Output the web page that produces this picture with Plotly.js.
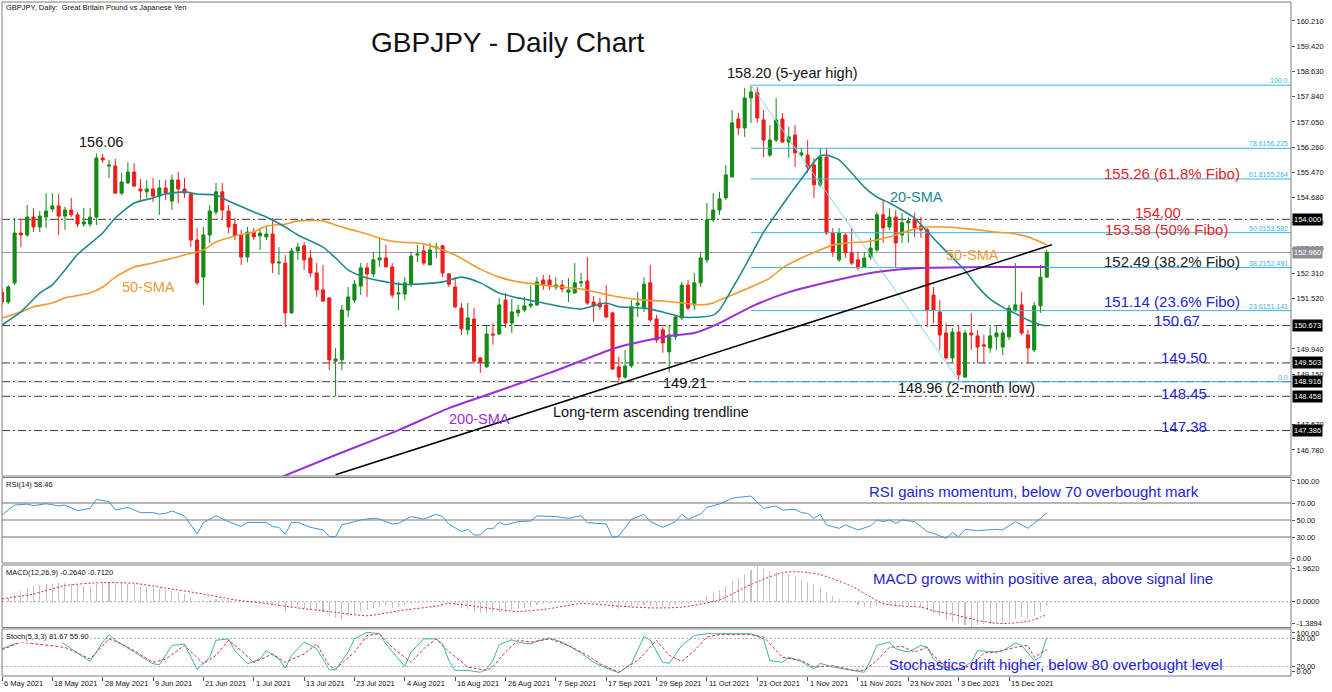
<!DOCTYPE html>
<html><head><meta charset="utf-8">
<script src="https://cdn.plot.ly/plotly-3.0.1.min.js"></script>
<style>html,body{margin:0;padding:0;background:#fff;}#chart{width:1332px;height:692px;}</style>
</head><body><div id="chart"></div>
<script>
// ---------------- DATA ----------------
const dateLabels = ['6 May 2021','18 May 2021','28 May 2021','9 Jun 2021','21 Jun 2021','1 Jul 2021','13 Jul 2021','23 Jul 2021','4 Aug 2021','16 Aug 2021','26 Aug 2021','7 Sep 2021','17 Sep 2021','29 Sep 2021','11 Oct 2021','21 Oct 2021','1 Nov 2021','11 Nov 2021','23 Nov 2021','3 Dec 2021','15 Dec 2021'];

const open = [
151.72,151.41,152.01,153.57,153.51,154.07,153.76,154.07,154.32,154.42,
154.10,154.29,154.14,153.85,153.85,154.07,155.92,155.67,155.67,154.82,
155.14,155.48,154.95,154.86,154.95,154.73,154.98,154.57,155.23,154.95,
154.79,153.35,152.19,153.51,154.23,154.86,154.26,153.85,153.51,152.82,
153.60,153.48,153.45,153.54,152.63,152.63,151.07,153.01,153.17,152.79,
152.32,151.79,151.54,149.56,149.60,151.16,151.47,151.91,152.48,152.29,
152.73,152.79,152.51,151.66,151.66,151.97,152.88,153.01,152.57,153.10,
153.17,152.29,151.88,151.22,150.54,150.88,149.66,149.38,150.41,150.41,
151.47,150.75,151.07,151.16,151.29,151.32,152.10,152.10,151.88,151.94,
151.72,151.69,152.01,152.07,151.41,151.38,151.32,151.07,149.38,149.06,
149.41,151.32,151.22,152.01,150.88,150.54,149.85,150.32,150.91,151.94,
151.32,152.01,152.73,153.98,154.29,154.67,155.33,157.14,156.86,157.80,
157.96,157.11,156.01,156.48,157.14,156.42,156.64,156.01,156.01,155.70,
155.08,155.95,153.57,152.73,153.51,152.95,152.73,152.51,152.82,153.04,
154.14,153.76,154.07,153.51,153.89,154.01,153.79,153.67,151.63,151.10,
150.44,149.66,150.47,149.06,150.44,150.35,150.07,149.97,150.32,150.00,
150.32,151.16,151.32,150.38,149.91,151.29,152.19];
const high = [
151.85,151.94,154.04,153.98,154.45,154.35,154.26,154.82,154.82,154.79,
154.39,154.67,154.23,154.35,154.35,156.06,156.05,155.86,155.89,155.45,
155.79,155.76,155.26,155.23,155.29,155.23,155.23,155.39,155.48,155.29,
154.82,153.73,153.76,154.45,155.14,155.14,154.45,154.04,153.67,153.76,
153.73,153.73,153.76,154.04,153.13,152.88,153.10,153.26,153.29,153.04,
152.63,152.57,151.57,149.97,151.32,151.88,152.10,152.63,152.63,152.98,
153.42,153.20,152.63,152.04,152.19,152.98,153.20,153.20,153.26,153.26,
153.20,152.32,152.19,151.38,151.38,151.22,149.69,150.69,150.75,151.54,
151.69,151.51,151.32,151.57,151.94,152.19,152.26,152.26,152.19,152.10,
152.16,152.63,152.32,152.82,151.60,151.54,151.94,151.10,149.69,149.91,
151.47,151.72,152.19,152.57,151.00,150.63,150.69,151.00,152.04,152.10,
152.32,152.98,154.51,154.82,154.86,155.70,157.42,157.33,158.11,158.20,
158.14,157.42,156.95,157.80,157.33,156.89,156.95,156.23,156.48,155.92,
156.23,156.23,153.73,153.73,153.57,153.73,152.98,152.98,153.42,154.23,
154.61,154.35,154.29,154.20,154.07,154.20,154.07,153.73,151.88,151.47,
150.75,150.60,150.69,150.54,151.07,150.54,150.38,150.63,150.69,150.54,
151.32,152.63,151.72,150.54,151.41,152.57,153.04];
const low = [
151.32,151.35,151.94,153.13,153.45,153.60,153.60,153.73,154.23,153.51,
153.67,154.07,153.76,153.76,153.76,153.82,155.76,155.29,154.79,154.76,
155.11,155.01,154.61,154.67,154.54,154.14,154.61,154.29,154.51,154.67,
153.13,151.94,151.32,153.26,154.14,153.98,153.57,153.35,152.57,152.66,
153.35,153.04,153.35,152.32,152.26,150.63,151.04,152.73,152.41,152.19,
151.57,151.41,149.28,148.46,149.28,150.94,151.38,151.63,151.57,152.19,
152.51,152.51,151.54,151.16,151.47,151.88,152.66,152.57,152.57,152.79,
152.19,151.88,151.22,150.38,150.38,149.50,149.19,149.35,150.07,150.38,
150.60,150.44,150.94,151.10,151.22,151.29,151.79,151.79,151.79,151.72,
151.41,151.69,151.88,151.32,150.79,151.16,150.91,149.28,148.88,149.00,
149.35,150.94,151.10,150.79,150.13,149.82,149.21,150.22,150.85,151.16,
151.16,151.88,152.63,153.92,154.14,154.61,155.29,156.64,156.58,157.02,
157.02,155.95,155.95,156.42,156.39,155.92,155.64,155.95,155.45,154.67,
155.01,153.51,152.82,152.66,152.79,152.57,152.41,152.48,152.73,152.98,
153.26,153.67,152.51,153.26,153.26,153.45,153.42,150.63,150.75,149.91,
149.60,149.53,148.96,149.03,149.91,149.50,149.50,149.82,149.91,149.75,
150.22,151.10,150.38,149.50,149.85,151.07,152.16];
const close = [
151.41,151.88,153.57,153.51,154.07,153.76,154.10,154.26,154.42,154.10,
154.29,154.14,153.85,153.92,154.07,155.92,155.86,155.70,154.82,155.17,
155.48,155.04,154.89,154.95,154.73,154.98,154.82,155.23,154.95,154.82,
153.35,152.01,153.51,154.26,154.86,154.29,153.76,153.48,152.82,153.60,
153.45,153.57,153.54,152.63,152.66,151.07,153.01,153.13,152.73,152.32,
151.79,151.44,149.60,149.63,151.16,151.57,151.97,152.48,152.29,152.73,
152.79,152.51,151.63,151.69,152.01,152.85,152.91,152.63,153.04,153.13,
152.32,151.97,151.26,150.57,150.91,149.56,149.50,150.41,150.38,151.32,
150.75,151.10,151.16,151.29,151.35,152.04,151.94,151.91,151.94,151.82,
151.79,152.01,152.04,151.38,151.29,151.26,150.94,149.31,149.06,149.41,
151.26,151.38,151.97,150.85,150.22,150.13,150.38,150.94,151.94,151.22,
152.01,152.79,153.98,154.29,154.64,155.39,157.02,156.86,157.80,157.99,
157.17,156.48,156.48,157.11,156.42,156.58,156.08,156.08,155.64,155.08,
155.95,153.57,152.98,153.57,152.95,152.63,152.48,152.79,153.10,154.14,
153.73,154.07,153.26,153.89,153.95,153.73,153.67,151.16,151.16,150.38,
149.66,150.47,149.13,150.44,150.38,150.00,150.03,150.35,150.44,150.44,
151.22,151.32,150.44,149.97,151.29,152.19,152.96];

const sma20Bar = [0,3,6,8,10,12,16,18,21,24,26,29,31,34,36,40,42,45,47,51,53,55,58,61,63,66,70,73,76,79,82,86,89,92,94,96,98,102,105,108,111,113,114,116,118,119,121,123,125,127,129,130,131,133,135,137,139,141,143,145,147,149,151,153,155,157,159,161,163,165,166];
const sma20Val = [150.69,151.10,151.69,151.95,152.41,152.90,153.57,154.04,154.51,154.67,154.79,154.86,154.79,154.76,154.57,154.23,154.07,153.76,153.51,153.13,152.79,152.41,152.16,152.04,151.97,151.97,152.04,152.19,152.01,151.69,151.54,151.38,151.26,151.19,151.29,151.38,151.26,151.22,151.10,150.94,150.94,151.00,151.16,151.82,152.51,152.88,153.60,154.17,154.73,155.26,155.79,155.98,156.01,155.86,155.45,155.01,154.70,154.51,154.29,154.04,153.62,153.20,152.80,152.40,151.90,151.50,151.25,151.05,150.85,150.70,150.67];

const sma50Bar = [0,3,5,8,10,14,16,18,21,24,26,29,32,34,37,40,42,45,47,51,53,55,58,61,63,67,70,72,74,76,79,82,86,89,92,95,98,102,105,108,111,113,114,116,119,122,124,127,130,132,134,137,139,142,145,147,150,152,155,158,160,163,165,166];
const sma50Val = [150.91,151.10,151.26,151.38,151.54,151.69,151.88,152.19,152.51,152.63,152.73,152.88,153.04,153.29,153.48,153.60,153.79,153.85,153.95,153.95,153.82,153.70,153.54,153.35,153.29,153.23,153.04,152.88,152.66,152.44,152.19,152.04,151.94,151.88,151.82,151.69,151.57,151.47,151.44,151.38,151.32,151.38,151.47,151.63,151.88,152.16,152.48,152.79,153.04,153.20,153.26,153.29,153.35,153.51,153.70,153.76,153.76,153.73,153.67,153.60,153.57,153.45,153.29,153.20];

const sma200Bar = [44,53,63,71,77,87,98,106,110,114,119,125,132,139,147,157,166];
const sma200Val = [145.90,146.62,147.40,148.09,148.50,149.19,150.00,150.35,150.44,150.75,151.26,151.72,152.07,152.35,152.48,152.51,152.51];

const trendBar = [53,166.8];
const trendVal = [146.00,153.20];

const fibStartBar = 119, fibEndBar = 152;
const fibLevels = [158.20,156.225,155.264,153.582,152.491,151.141,148.916];
const fibPct = ['100.0','78.6','61.8','50.0','38.2','23.6','0.0'];
const fibSwing = [158.20,148.96];

const levelLines = [154.00,150.673,149.503,148.916,148.458,147.386];
const lastPrice = 152.96;
const priceTicks = [160.21,159.42,158.63,157.84,157.05,156.26,155.47,154.68,153.89,153.10,152.31,151.52,149.94,149.15,147.57,146.78];

const rsiBar = [0,2,4,5,7,9,10,12,14,15,17,18,20,22,24,25,26,27,29,30,31,32,34,36,38,39,42,43,44,45,46,47,49,51,52,53,54,56,57,59,60,62,63,65,67,69,70,71,73,74,75,76,77,78,79,80,82,84,85,88,90,92,93,96,97,98,100,102,103,105,107,108,109,111,112,114,116,117,119,121,123,124,126,127,128,129,130,131,133,134,136,138,139,140,141,142,143,145,147,148,150,151,152,153,155,158,159,161,163,165,166];
const rsiVal = [55.9,67.6,68.7,66.9,69.1,66.7,67.6,61.0,63.7,74.3,71.6,61.7,64.9,58.7,58.7,56.9,57.8,60.6,54.8,44.2,33.6,46.9,55.1,48.1,42.2,47.2,47.2,42.2,41.4,33.1,47.2,47.2,41.4,38.3,30.4,30.4,44.2,48.1,50.1,52.0,51.1,45.3,46.1,54.0,51.1,56.7,54.0,45.2,36.3,39.0,32.4,32.4,39.8,39.8,47.2,44.2,48.1,48.9,54.8,54.0,52.0,55.1,46.9,45.3,29.6,31.2,50.8,56.7,48.1,41.4,48.1,56.7,50.8,57.0,64.9,68.8,75.5,76.7,78.2,63.7,66.5,61.7,62.6,58.7,57.8,52.0,56.7,44.2,40.2,44.2,38.3,43.0,50.1,48.1,50.1,46.1,50.1,48.1,36.3,34.3,28.4,35.1,30.4,39.0,37.5,39.0,38.3,48.1,40.2,52.0,58.46];

const macdVal = [
0.15,0.20,0.40,0.60,0.75,0.85,0.91,0.95,1.00,1.03,
1.05,0.99,0.92,0.87,0.86,0.95,1.05,1.09,1.05,1.02,
1.00,0.95,0.89,0.82,0.76,0.72,0.66,0.58,0.50,0.42,
0.24,0.06,0.08,0.12,0.16,0.14,0.08,0.04,-0.02,0.00,
-0.04,-0.05,-0.08,-0.18,-0.26,-0.50,-0.36,-0.30,-0.34,-0.44,
-0.52,-0.58,-0.77,-0.90,-0.93,-0.80,-0.65,-0.52,-0.44,-0.36,
-0.30,-0.26,-0.32,-0.30,-0.22,-0.12,-0.06,-0.04,0.00,0.02,
-0.02,-0.08,-0.20,-0.36,-0.40,-0.52,-0.60,-0.63,-0.64,-0.56,
-0.54,-0.46,-0.40,-0.34,-0.28,-0.20,-0.14,-0.11,-0.08,-0.05,
-0.03,0.00,0.01,-0.02,-0.05,-0.08,-0.14,-0.32,-0.38,-0.34,
-0.22,-0.20,-0.16,-0.22,-0.26,-0.28,-0.24,-0.20,-0.14,-0.12,
-0.04,0.08,0.30,0.48,0.66,0.88,1.15,1.32,1.55,1.74,
1.96,1.82,1.70,1.66,1.60,1.55,1.40,1.22,1.08,0.95,
0.82,0.52,0.30,0.16,0.05,-0.04,-0.16,-0.28,-0.34,-0.26,
-0.18,-0.16,-0.22,-0.24,-0.24,-0.26,-0.30,-0.46,-0.62,-0.80,
-1.00,-1.14,-1.24,-1.30,-1.39,-1.28,-1.24,-1.20,-1.15,-1.12,
-1.07,-0.94,-0.84,-0.88,-0.76,-0.54,-0.26];
const sigBar = [0,5,10,16,21,26,32,37,42,47,53,58,63,69,71,77,82,87,92,98,103,108,114,119,124,127,130,135,138,140,143,146,148,151,155,158,160,163,164,165,166];
const sigVal = [0.16,0.42,0.89,1.05,1.01,0.75,0.42,0.10,-0.10,-0.34,-0.58,-0.77,-0.50,-0.24,-0.10,-0.34,-0.54,-0.38,-0.10,-0.24,-0.34,-0.30,0.10,0.95,1.60,1.64,1.49,0.85,0.26,-0.10,-0.24,-0.30,-0.50,-0.69,-1.03,-1.19,-1.19,-1.08,-0.98,-0.85,-0.71];

const kBar = [0,2,3,5,7,9,14,16,17,18,21,24,25,26,27,29,30,31,33,34,36,37,39,41,42,44,45,46,48,50,52,53,55,56,58,60,61,63,64,65,67,69,70,71,72,74,76,77,78,79,81,82,84,85,87,89,92,94,96,98,100,102,103,105,106,108,110,112,115,119,121,122,124,125,127,129,130,132,135,137,138,139,141,142,143,144,146,147,148,150,152,154,155,158,159,161,162,164,165,166];
const kVal = [58,68,79,88,84,76,31,72,88,76,51,26,24,44,65,68,40,14,40,76,79,54,26,36,54,36,17,44,72,58,13,13,51,79,93,90,68,36,20,51,79,79,68,33,12,12,8,15,33,67,77,72,68,74,81,72,49,29,17,7,26,84,76,29,27,65,86,90,90,90,79,33,29,40,31,15,27,19,12,8,33,65,72,58,54,51,65,61,36,12,13,29,54,51,54,70,65,33,40,81.67];
const dBar = [0,3,10,14,17,19,21,24,26,29,32,34,36,38,40,43,45,48,50,52,53,56,58,60,62,65,67,69,71,74,77,78,80,82,84,87,90,93,95,98,101,104,106,108,110,112,114,119,121,124,127,129,132,135,137,139,141,143,145,147,148,150,152,154,156,158,161,163,164,166];
const dVal = [56,72,61,36,79,68,54,29,36,65,26,44,76,54,29,47,29,47,68,22,15,51,86,90,61,29,58,79,52,19,12,20,51,76,72,79,65,44,26,8,33,76,44,31,54,83,88,88,83,40,33,19,22,13,12,33,61,63,51,61,44,19,15,22,49,51,61,65,40,55.9];

// ---------------- LAYOUT HELPERS ----------------
const W = 1332, H = 692;
const PX = x => x / W, PY = y => 1 - y / H;
const FONT = 'Liberation Sans, Arial, sans-serif';
const LABEL_STEP = 8;
const X_MAX = 204.8;
const bars = open.map((_, i) => i);
const GREEN = '#158a15', RED = '#ef1c1c', FIBC = '#3db5de', BLUE = '#2424d0';

const fibX = [], fibY = [];
fibLevels.forEach(v => { fibX.push(fibStartBar, X_MAX, null); fibY.push(v, v, null); });

const traces = [
  {type:'candlestick', x:bars, open, high, low, close, xaxis:'x', yaxis:'y',
   increasing:{line:{color:GREEN,width:1}, fillcolor:GREEN},
   decreasing:{line:{color:RED,width:1}, fillcolor:RED},
   whiskerwidth:0, hoverinfo:'skip', showlegend:false},
  {type:'scatter', mode:'lines', x:fibX, y:fibY, yaxis:'y', line:{color:FIBC,width:1}, hoverinfo:'skip'},
  {type:'scatter', mode:'lines', x:[fibStartBar,fibEndBar], y:fibSwing, yaxis:'y', line:{color:'#7fd6ee',width:1}, hoverinfo:'skip'},
  {type:'scatter', mode:'lines', x:sma200Bar, y:sma200Val, yaxis:'y', line:{color:'#9a2fd8',width:2,shape:'spline',smoothing:0.6}, hoverinfo:'skip'},
  {type:'scatter', mode:'lines', x:sma50Bar, y:sma50Val, yaxis:'y', line:{color:'#f39a2e',width:1.6,shape:'spline',smoothing:0.6}, hoverinfo:'skip'},
  {type:'scatter', mode:'lines', x:sma20Bar, y:sma20Val, yaxis:'y', line:{color:'#21898d',width:1.6,shape:'spline',smoothing:0.6}, hoverinfo:'skip'},
  {type:'scatter', mode:'lines', x:trendBar, y:trendVal, yaxis:'y', line:{color:'#000',width:1.6}, hoverinfo:'skip'},
  {type:'scatter', mode:'lines', x:rsiBar, y:rsiVal, yaxis:'y2', line:{color:'#3f93e0',width:1}, hoverinfo:'skip'},
  {type:'bar', x:bars, y:macdVal, yaxis:'y3', width:0.17, marker:{color:'#c2c2c2',line:{width:0}}, hoverinfo:'skip'},
  {type:'scatter', mode:'lines', x:sigBar, y:sigVal, yaxis:'y3', line:{color:'#e02828',width:1,dash:'2px,2px',shape:'spline',smoothing:0.6}, hoverinfo:'skip'},
  {type:'scatter', mode:'lines', x:kBar, y:kVal, yaxis:'y4', line:{color:'#3bb3b3',width:1}, hoverinfo:'skip'},
  {type:'scatter', mode:'lines', x:dBar, y:dVal, yaxis:'y4', line:{color:'#e03030',width:1,dash:'3px,2px'}, hoverinfo:'skip'}
];

const tickFont = {family:FONT, size:7.5, color:'#111'};
const yBase = {side:'right', anchor:'x', showgrid:false, zeroline:false, showline:false, ticks:'outside', ticklen:3, tickcolor:'#555', tickfont:tickFont, fixedrange:true};

const shapes = [];
const frame = (y0, y1) => shapes.push({type:'rect', xref:'paper', yref:'paper', x0:PX(2), x1:PX(1291), y0:PY(y1), y1:PY(y0), line:{color:'#7d7d7d',width:1}, fillcolor:'rgba(0,0,0,0)', layer:'above'});
frame(2,476); frame(477.5,563); frame(565,627.5); frame(629,676);
levelLines.forEach(v => shapes.push({type:'line', xref:'paper', yref:'y', x0:PX(2), x1:PX(1291), y0:v, y1:v, line:{color:'#3c3c3c',width:1,dash:'8px,3px,2px,3px'}, layer:'below'}));
shapes.push({type:'line', xref:'paper', yref:'y', x0:PX(2), x1:PX(1291), y0:lastPrice, y1:lastPrice, line:{color:'#9aa0a6',width:1}, layer:'below'});
[[70,'#6e6e6e',1],[30,'#6e6e6e',1],[50,'#bdbdbd',2]].forEach(([v,c,w]) => shapes.push({type:'line', xref:'paper', yref:'y2', x0:PX(2), x1:PX(1291), y0:v, y1:v, line:{color:c,width:w}, layer:'below'}));
shapes.push({type:'line', xref:'paper', yref:'y3', x0:PX(2), x1:PX(1291), y0:0, y1:0, line:{color:'#a8a8a8',width:1,dash:'2px,2px'}, layer:'below'});
[80,20].forEach(v => shapes.push({type:'line', xref:'paper', yref:'y4', x0:PX(2), x1:PX(1291), y0:v, y1:v, line:{color:'#b0b0b0',width:1,dash:'2px,2px'}, layer:'below'}));

const ann = [];
const T = (text, x, y, size, color, extra) => ann.push(Object.assign({text, xref:'paper', yref:'paper', x:PX(x), y:PY(y), xanchor:'center', yanchor:'middle', showarrow:false, font:{family:FONT, size, color}}, extra || {}));

T('GBPJPY, Daily:  Great Britain Pound vs Japanese Yen', 4, 8, 7.5, '#111', {xanchor:'left'});
T('GBPJPY - Daily Chart', 508, 43, 28, '#111');
T('158.20 (5-year high)', 792, 73, 14.5, '#111');
T('156.06', 101, 142, 14.5, '#111');
T('20-SMA', 916, 197, 14.5, '#21898d');
T('50-SMA', 148, 287, 14.5, '#f09a35');
T('50-SMA', 972, 255, 14.5, '#f09a35');
T('200-SMA', 479, 419, 14.5, '#9a2fd8');
T('Long-term ascending trendline', 651, 412, 14.5, '#111');
T('149.21', 685, 383, 14.5, '#111');
T('148.96 (2-month low)', 966, 388, 14.5, '#111');
T('155.26 (61.8% Fibo)', 1172, 174, 15, '#e3262a');
T('154.00', 1158, 212, 15, '#e3262a');
T('153.58 (50% Fibo)', 1166, 229, 15, '#e3262a');
T('152.49 (38.2% Fibo)', 1172, 261, 15, '#222');
T('151.14 (23.6% Fibo)', 1172, 301, 15, BLUE);
T('150.67', 1177, 321, 15, BLUE);
T('149.50', 1184, 357, 15, BLUE);
T('148.45', 1184, 393, 15, BLUE);
T('147.38', 1184, 426, 15, BLUE);
T('RSI gains momentum, below 70 overbought mark', 1034, 491, 15, BLUE);
T('MACD grows within positive area, above signal line', 1043, 578, 15, BLUE);
T('Stochastics drift higher, below 80 overbought level', 1056, 664, 15, BLUE);
T('RSI(14) 58.46', 4, 484, 7.5, '#111', {xanchor:'left'});
T('MACD(12,26,9) -0.2640 -0.7120', 4, 572, 7.5, '#111', {xanchor:'left'});
T('Stoch(5,3,3) 81.67 55.90', 4, 636, 7.5, '#111', {xanchor:'left', bgcolor:'#fff'});

dateLabels.forEach((d, k) => ann.push({text:d, xref:'x', yref:'paper', x:k*LABEL_STEP, y:PY(683), xanchor:'left', yanchor:'middle', showarrow:false, font:tickFont}));

fibLevels.forEach((v, k) => {
  const t = (fibPct[k] === '100.0' || fibPct[k] === '0.0') ? fibPct[k] : fibPct[k] + v.toFixed(3);
  ann.push({text:t, xref:'paper', yref:'y', x:PX(1289), y:v, xanchor:'right', yanchor:'bottom', showarrow:false, font:{family:FONT, size:7, color:FIBC}, borderpad:0});
});

const boxLabel = (v, bg) => ann.push({text:v.toFixed(3), xref:'paper', yref:'y', x:PX(1292), y:v, xanchor:'left', yanchor:'middle', showarrow:false, bgcolor:bg, borderpad:1, font:{family:FONT, size:7.5, color:'#fff'}});
levelLines.forEach(v => boxLabel(v, '#000'));
boxLabel(lastPrice, '#8c9096');

const layout = {
  width:W, height:H, margin:{l:0,r:0,t:0,b:0}, paper_bgcolor:'#fff', plot_bgcolor:'rgba(0,0,0,0)', showlegend:false,
  bargap:0,
  xaxis:{domain:[PX(2),PX(1291)], range:[0,X_MAX], anchor:'y4', showgrid:false, zeroline:false, showline:false,
         showticklabels:false, ticks:'outside', ticklen:4, tickcolor:'#555', tickvals:dateLabels.map((_,k)=>k*LABEL_STEP),
         rangeslider:{visible:false}, fixedrange:true},
  yaxis:Object.assign({}, yBase, {domain:[PY(476),PY(2)], range:[145.963,160.804], tickvals:priceTicks, ticktext:priceTicks.map(v=>v.toFixed(3))}),
  yaxis2:Object.assign({}, yBase, {domain:[PY(562.5),PY(477.5)], range:[0,100], tickvals:[95.9,70,50,30,5.3], ticktext:['100.00','70.00','50.00','30.00','0.00']}),
  yaxis3:Object.assign({}, yBase, {domain:[PY(627),PY(566)], range:[-1.3894,1.962], tickvals:[1.852,0,-1.17], ticktext:['1.9620','0.0000','-1.3894']}),
  yaxis4:Object.assign({}, yBase, {domain:[PY(676),PY(629)], range:[0,100], tickvals:[91.5,80,20,10.6], ticktext:['100.00','80.00','20.00','0.00']}),
  shapes, annotations:ann
};

Plotly.newPlot('chart', traces, layout, {staticPlot:true, displayModeBar:false});
</script></body></html>
